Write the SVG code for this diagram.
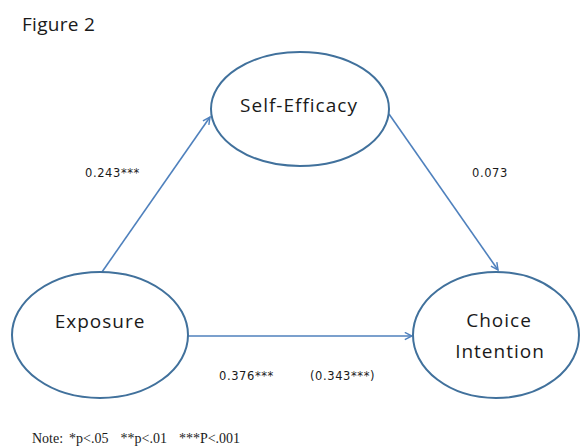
<svg xmlns="http://www.w3.org/2000/svg" width="582" height="447" viewBox="0 0 582 447">
  <defs>
    <marker id="arrow" viewBox="0 0 10 10" refX="9" refY="5" markerWidth="9" markerHeight="9" markerUnits="userSpaceOnUse" orient="auto">
      <path d="M1,1 L9,5 L1,9" fill="none" stroke="#4f81bd" stroke-width="1.6"/>
    </marker>
    <style>
      .node { fill: #ffffff; stroke: #41719c; stroke-width: 2; }
      .label { font-family: "Open Sans", "Liberation Sans", sans-serif; font-size: 19px; letter-spacing: 1px; fill: #1a1a1a; text-anchor: middle; }
      .coef { font-family: "DejaVu Sans", "Liberation Sans", sans-serif; font-size: 11.5px; letter-spacing: 0.6px; fill: #1a1a1a; }
      .edge { stroke: #4f81bd; stroke-width: 1.6; fill: none; marker-end: url(#arrow); }
    </style>
  </defs>
  <rect width="582" height="447" fill="#ffffff"/>
  <text x="22" y="31" font-family="Open Sans, Liberation Sans, sans-serif" font-size="19" letter-spacing="0.3" fill="#1a1a1a">Figure 2</text>

  <g id="connectors">
    <line class="edge" x1="102" y1="272" x2="210" y2="117"/>
    <line class="edge" x1="389" y1="114" x2="498" y2="270"/>
    <line class="edge" x1="188" y1="336" x2="412" y2="336"/>
  </g>

  <g id="self-efficacy">
    <ellipse class="node" cx="300" cy="109" rx="89" ry="57"/>
    <text class="label" x="299" y="112">Self-Efficacy</text>
  </g>
  <g id="exposure">
    <ellipse class="node" cx="100" cy="335" rx="88" ry="63"/>
    <text class="label" x="100" y="328">Exposure</text>
  </g>
  <g id="choice-intention">
    <ellipse class="node" cx="496" cy="335" rx="83" ry="63"/>
    <text class="label" x="499" y="327">Choice</text>
    <text class="label" x="500" y="358">Intention</text>
  </g>

  <g id="coefficients">
    <text class="coef" x="85" y="177">0.243***</text>
    <text class="coef" x="472" y="177">0.073</text>
    <text class="coef" x="219" y="380">0.376***</text>
    <text class="coef" x="310" y="380">(0.343***)</text>
  </g>

  <text x="32" y="443" font-family="Liberation Serif, serif" font-size="14" word-spacing="2.5" fill="#1a1a1a" xml:space="preserve">Note: *p&lt;.05  **p&lt;.01  ***P&lt;.001</text>
</svg>
